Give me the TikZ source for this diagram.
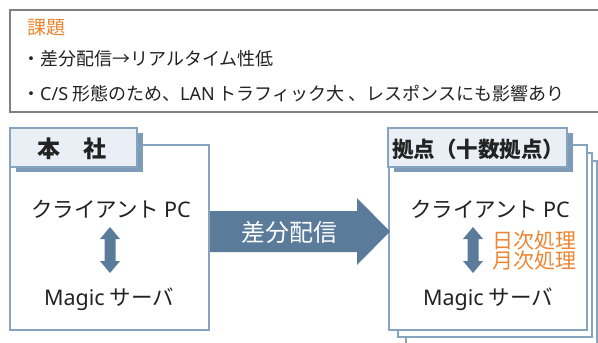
\documentclass[tikz,border=0pt]{standalone}
\usepackage{fontspec}
\setmainfont{Noto Sans CJK JP}
\newfontfamily\latinfont{Noto Sans}
\newcommand{\lt}[1]{{\latinfont #1}}
\definecolor{boxline}{HTML}{86A3BF}
\definecolor{tabfill}{HTML}{E9EFF4}
\definecolor{tabshadow}{HTML}{7E9BB7}
\definecolor{arrowfill}{HTML}{5A7B99}
\definecolor{orangetxt}{HTML}{EE8530}
\definecolor{txt}{HTML}{222222}
\definecolor{graybox}{HTML}{808080}
\tikzset{
  panel/.style={draw=boxline, line width=1.6pt, fill=white},
  tabbox/.style={draw=boxline, line width=1.4pt, fill=tabfill},
  tabshade/.style={fill=tabshadow},
  arrowshape/.style={fill=arrowfill},
  body/.style={text=txt, font=\fontsize{21.5}{24}\selectfont, inner sep=0pt},
  tabtext/.style={text=txt, font=\fontsize{21.5}{25}\selectfont\bfseries, inner sep=0pt},
  toptext/.style={anchor=west, text=txt, font=\fontsize{18}{22}\selectfont, inner sep=0pt},
}
\begin{document}
\begin{tikzpicture}[x=1pt,y=-1pt]
\useasboundingbox (0,0) rectangle (598,343);
\clip (0,0) rectangle (598,343);
\fill[white] (0,0) rectangle (598,343);
% issue box
\draw[draw=graybox, line width=1.6pt] (10,10) rectangle (605,112);
\node[toptext, text=orangetxt, font=\fontsize{19}{22}\selectfont] (issue) at (27,28) {課題};
\node[toptext] (l1) at (22,59) {・差分配信→リアルタイム性低};
\node[toptext] (l2) at (22,94) {・\lt{C/S} 形態のため、\lt{LAN} トラフィック大 、レスポンスにも影響あり};
% head office
\draw[panel] (10,145) rectangle (209,330);
\fill[tabshade] (16,133) rectangle (143,172);
\draw[tabbox] (10,128) rectangle (137,167);
\node[tabtext, font=\fontsize{23}{25}\selectfont\bfseries] (hq) at (72,149) {本　社};
\node[body] (pc1) at (111,209) {クライアント \lt{PC}};
\node[body] (srv1) at (109,299) {\lt{Magic} サーバ};
\fill[arrowshape] (110,227) -- (120,239) -- (115.5,239) -- (115.5,261) -- (120,261) -- (110,273) -- (100,261) -- (104.5,261) -- (104.5,239) -- (100,239) -- cycle;
% branches
\draw[panel] (406,161) rectangle (597,346);
\draw[panel] (398,153) rectangle (592,337);
\draw[panel] (389,145) rectangle (587,330);
\fill[tabshade] (394,133) rectangle (573,172);
\draw[tabbox] (388,128) rectangle (567,167);
\node[tabtext] (br) at (478,149) {拠点（十数拠点）};
\node[body] (pc2) at (490,209) {クライアント \lt{PC}};
\node[body] (srv2) at (488,299) {\lt{Magic} サーバ};
\fill[arrowshape] (473,227) -- (483,239) -- (478.5,239) -- (478.5,261) -- (483,261) -- (473,273) -- (463,261) -- (467.5,261) -- (467.5,239) -- (463,239) -- cycle;
\node[anchor=west, text=orangetxt, font=\fontsize{21}{20}\selectfont, inner sep=0pt, align=left] (proc) at (492,251) {日次処理\\月次処理};
% distribution arrow
\fill[arrowshape] (210,211) -- (357,211) -- (357,198) -- (390,231.5) -- (357,265) -- (357,252) -- (210,252) -- cycle;
\node[text=white, font=\fontsize{24}{26}\selectfont, inner sep=0pt] (dist) at (289,232) {差分配信};
\end{tikzpicture}
\end{document}
